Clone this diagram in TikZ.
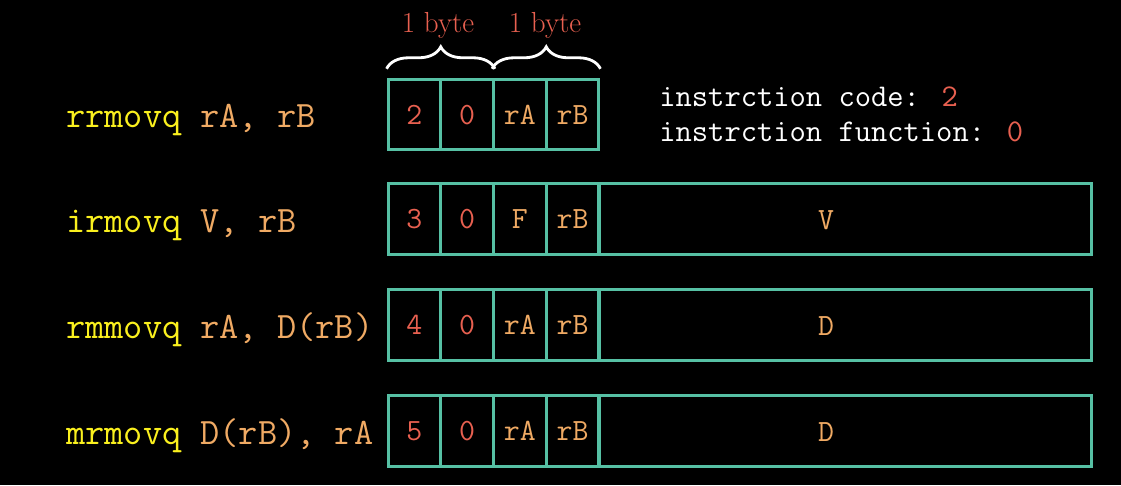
\documentclass[tikz,border=0pt]{standalone}
\usetikzlibrary{decorations.pathreplacing}
\definecolor{tealc}{RGB}{86,192,164}
\definecolor{coral}{RGB}{232,96,80}
\definecolor{org}{RGB}{240,170,100}
\definecolor{yel}{RGB}{250,240,30}
\begin{document}
\begin{tikzpicture}[x=0.02cm,y=-0.02cm,
 cell/.style={draw=tealc, line width=1.7pt, rectangle, inner sep=0pt, minimum width=1.055cm, minimum height=1.41cm, text height=11.3pt, text depth=0pt, font=\ttfamily\fontsize{17.6}{20}\selectfont},
 wide/.style={cell, minimum width=9.86cm},
 num/.style={text=coral}, reg/.style={text=org},
 lbl/.style={text=org, font=\ttfamily\fontsize{17.6}{20}\selectfont, anchor=base, inner sep=0pt},
 instr/.style={anchor=base west, font=\ttfamily\fontsize{21.2}{24}\selectfont, text=org, inner sep=0pt},
 note/.style={anchor=base west, font=\ttfamily\fontsize{18}{20}\selectfont, text=white, inner sep=0pt},
 brc/.style={decorate, decoration={brace, amplitude=0.44cm}, draw=white, line width=1.6pt},
 bytel/.style={font=\fontsize{16.5}{18}\selectfont, text=coral, anchor=base, inner sep=0pt}]
\fill[black] (0,0) rectangle (1121,485);
\useasboundingbox (0,0) rectangle (1121,485);
% row 1
\node[cell,num] (r1a) at (414.4,114.5) {2};
\node[cell,num] (r1b) at (467.1,114.5) {0};
\node[cell,reg] (r1c) at (519.9,114.5) {rA};
\node[cell,reg] (r1d) at (572.6,114.5) {rB};
% row 2
\node[cell,num] (r2a) at (414.4,219) {3};
\node[cell,num] (r2b) at (467.1,219) {0};
\node[cell,reg] (r2c) at (519.9,219) {F};
\node[cell,reg] (r2d) at (572.6,219) {rB};
\node[wide] (r2w) at (845.5,219) {};
\node[lbl] (r2v) at (826,229) {V};
% row 3
\node[cell,num] (r3a) at (414.4,325) {4};
\node[cell,num] (r3b) at (467.1,325) {0};
\node[cell,reg] (r3c) at (519.9,325) {rA};
\node[cell,reg] (r3d) at (572.6,325) {rB};
\node[wide] (r3w) at (845.5,325) {};
\node[lbl] (r3v) at (826,335) {D};
% row 4
\node[cell,num] (r4a) at (414.4,431) {5};
\node[cell,num] (r4b) at (467.1,431) {0};
\node[cell,reg] (r4c) at (519.9,431) {rA};
\node[cell,reg] (r4d) at (572.6,431) {rB};
\node[wide] (r4w) at (845.5,431) {};
\node[lbl] (r4v) at (826,441) {D};
% instructions
\node[instr] (i1) at (66,127) {\textcolor{yel}{rrmovq} rA, rB};
\node[instr] (i2) at (66,232) {\textcolor{yel}{irmovq} V, rB};
\node[instr] (i3) at (66,338) {\textcolor{yel}{rmmovq} rA, D(rB)};
\node[instr] (i4) at (66,444) {\textcolor{yel}{mrmovq} D(rB), rA};
% notes
\node[note] (n1) at (659,106) {instrction code: \textcolor{coral}{2}};
\node[note] (n2) at (659,141.5) {instrction function: \textcolor{coral}{0}};
% braces
\draw[brc] ([yshift=0.18cm]r1a.north west) -- ([yshift=0.18cm]r1b.north east);
\draw[brc] ([yshift=0.18cm]r1c.north west) -- ([yshift=0.18cm]r1d.north east);
\node[bytel] (b1) at (438,32) {1 byte};
\node[bytel] (b2) at (545,32) {1 byte};
\end{tikzpicture}
\end{document}
